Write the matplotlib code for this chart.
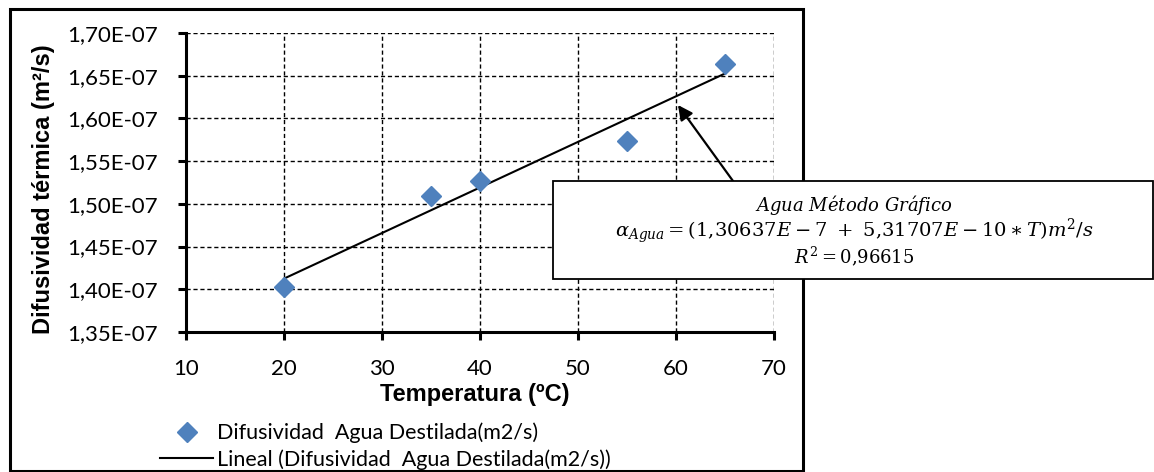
import matplotlib
matplotlib.use("Agg")
import matplotlib.pyplot as plt
import numpy as np
from matplotlib.patches import Rectangle
from matplotlib.ticker import FuncFormatter, MultipleLocator

plt.rcParams['mathtext.fontset'] = 'dejavuserif'

# ---- data ----
temperatura = [20, 35, 40, 55, 65]
difusividad = [1.403e-7, 1.509e-7, 1.527e-7, 1.573e-7, 1.664e-7]
serie_label = "Difusividad  Agua Destilada(m2/s)"
trend_label = "Lineal (Difusividad  Agua Destilada(m2/s))"
x_label = "Temperatura (ºC)"
y_label = "Difusividad térmica (m²/s)"
eq_lines = [r"$Agua\ M\acute{e}todo\ Gr\acute{a}fico$",
            r"$\alpha_{Agua} = (1{,}30637E - 7\ +\ 5{,}31707E - 10 \ast T)m^2/s$",
            r"$R^2 = 0{,}96615$"]

W, H = 1154, 472
fig = plt.figure(figsize=(W / 100, H / 100), dpi=100)

def fx(px):
    return px / W

def fy(py):
    return 1 - py / H

ax = fig.add_axes([fx(186), fy(332), fx(774) - fx(186), fy(33) - fy(332)])

blue = '#4F81BD'
ax.plot(temperatura, difusividad, linestyle='none', marker='D', markersize=10,
        color=blue, markeredgecolor=blue, label=serie_label, zorder=4)

coef = np.polyfit(temperatura, difusividad, 1)
xt = np.array([min(temperatura), max(temperatura)])
ax.plot(xt, np.polyval(coef, xt), color='black', lw=1.5, label=trend_label, zorder=3)

ax.set_xlim(10, 70)
ax.set_ylim(1.35e-7, 1.70e-7)
ax.xaxis.set_major_locator(MultipleLocator(10))
ax.yaxis.set_major_locator(MultipleLocator(0.05e-7))
ax.yaxis.set_major_formatter(FuncFormatter(
    lambda v, p: (f"{v * 1e7:.2f}E-07").replace('.', ',')))

ax.grid(True, color='black', linestyle=(0, (3, 2)), linewidth=1.0)
ax.set_axisbelow(True)
for s in ['top', 'right']:
    ax.spines[s].set_visible(False)
for s in ['left', 'bottom']:
    ax.spines[s].set_linewidth(2.2)
    ax.spines[s].set_zorder(5)

ax.tick_params(axis='both', direction='out', length=6, width=2.2,
               labelsize=16, colors='black')
ax.tick_params(axis='y', pad=14)
ax.tick_params(axis='x', pad=13.5)
for lab in ax.get_xticklabels() + ax.get_yticklabels():
    lab.set_fontfamily('Lato')

fig.text(fx(475), fy(395), x_label, ha='center', va='center',
         fontsize=17, fontweight='bold', family='Liberation Sans')
fig.text(fx(44), fy(189), y_label, ha='center', va='center', rotation=90,
         fontsize=17, fontweight='bold', family='Liberation Sans')

leg = fig.legend(loc='upper left', bbox_to_anchor=(fx(160), fy(422.5)),
                 frameon=False, borderpad=0, borderaxespad=0,
                 handlelength=2.47, handletextpad=0.19, labelspacing=0.27,
                 prop={'family': 'Lato', 'size': 15.5})

# outer frame
fig.patches.append(Rectangle((fx(10), fy(471)), fx(803) - fx(10), fy(9) - fy(471),
                             transform=fig.transFigure, fill=False,
                             edgecolor='black', linewidth=2.2, zorder=5))

# equation box
fig.patches.append(Rectangle((fx(553), fy(279)), fx(1153) - fx(553), fy(181) - fy(279),
                             transform=fig.transFigure, facecolor='white',
                             edgecolor='black', linewidth=1.3, zorder=6))
for txt, py, fs in zip(eq_lines, [212, 237, 263], [13, 14, 13]):
    fig.text(fx(854), fy(py), txt, ha='center', va='baseline', fontsize=fs,
             zorder=7)

# arrow from the box to the trendline
ax.annotate('', xy=(60.2, 1.6157e-7), xycoords='data',
            xytext=(fx(733), fy(181)), textcoords='figure fraction',
            arrowprops=dict(arrowstyle='-|>', color='black', lw=1.6,
                            mutation_scale=22, shrinkA=0, shrinkB=0),
            zorder=8)

fig.savefig('out.png', dpi=100)
